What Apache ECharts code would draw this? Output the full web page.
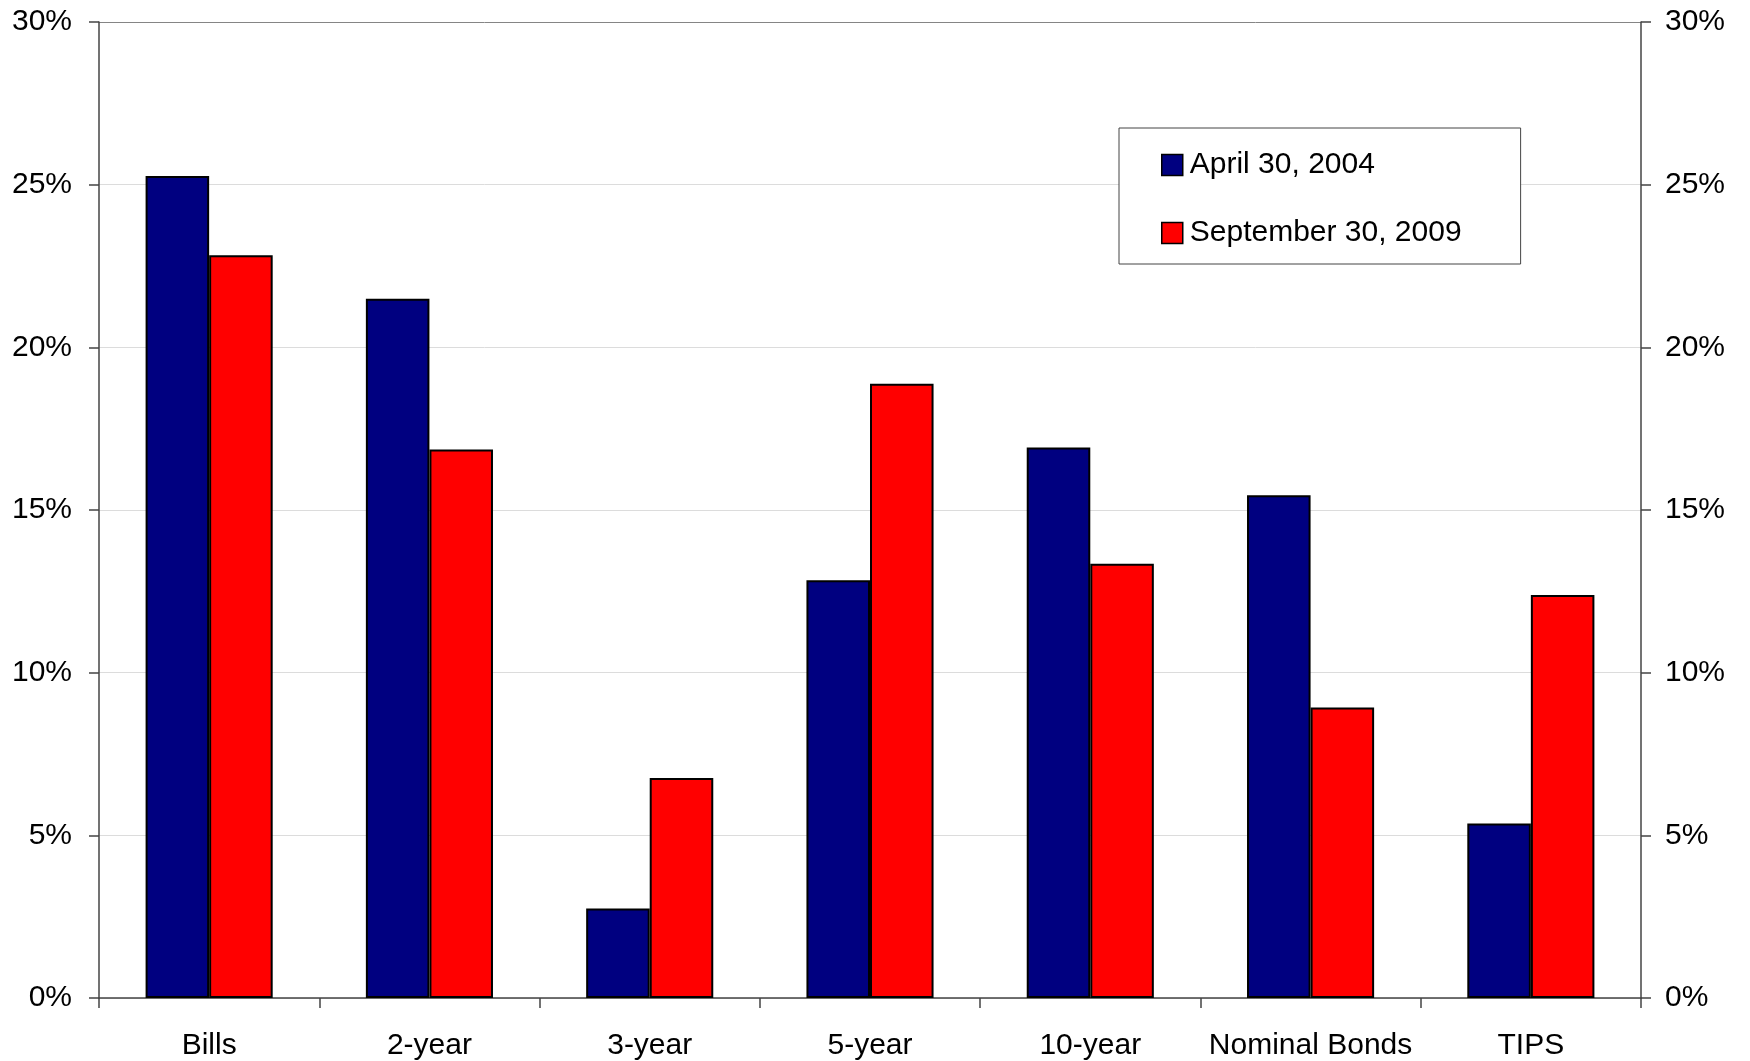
<!DOCTYPE html>
<html>
<head>
<meta charset="utf-8">
<script src="https://cdn.jsdelivr.net/npm/echarts@6/dist/echarts.min.js"></script>
<style>
  html, body { margin: 0; padding: 0; background: #fff; }
  #chart { width: 1750px; height: 1061px; }
</style>
</head>
<body>
<div id="chart"></div>
<script>
// Treasury maturity shares, in percent
const categories = ['Bills', '2-year', '3-year', '5-year', '10-year', 'Nominal Bonds', 'TIPS'];
const april2004 = [25.27, 21.49, 2.75, 12.84, 16.92, 15.45, 5.36];
const september2009 = [22.83, 16.86, 6.76, 18.88, 13.35, 8.93, 12.39];
const seriesNames = ['April 30, 2004', 'September 30, 2009'];
const yTicks = { min: 0, max: 30, step: 5 };

const FONT = '"Liberation Sans", Arial, sans-serif';
const FONT_SIZE = 30;
const chart = echarts.init(document.getElementById('chart'));

// one light split line per tick; the top one doubles as the frame edge
const splitColors = [];
for (let v = yTicks.min; v <= yTicks.max; v += yTicks.step) {
  splitColors.push(v === yTicks.max ? '#858585' : '#dcdcdc');
}

const yAxisBase = {
  type: 'value',
  min: yTicks.min,
  max: yTicks.max,
  interval: yTicks.step,
  axisLine: { show: true, lineStyle: { color: '#444', width: 1.5 } },
  axisTick: { show: true, inside: false, length: 10, lineStyle: { color: '#444', width: 1.5 } },
  axisLabel: { formatter: '{value}%', fontSize: FONT_SIZE, fontFamily: FONT, color: '#000' }
};

chart.setOption({
  animation: false,
  backgroundColor: '#fff',
  grid: { left: 99, right: 109, top: 22, bottom: 63, containLabel: false },
  legend: {
    data: seriesNames,
    orient: 'vertical',
    left: 1119,
    top: 128,
    padding: [22, 59, 16, 42],
    itemWidth: 21,
    itemHeight: 21,
    itemGap: 38,
    icon: 'rect',
    borderColor: '#444',
    borderWidth: 1,
    backgroundColor: '#fff',
    itemStyle: { borderColor: '#000', borderWidth: 1.5 },
    textStyle: { fontSize: FONT_SIZE, lineHeight: 30, fontFamily: FONT, color: '#000', padding: [0, 0, 0, 2] }
  },
  xAxis: {
    type: 'category',
    data: categories,
    axisLine: { show: true, onZero: false, lineStyle: { color: '#444', width: 1.5 } },
    axisTick: { show: true, length: 10, lineStyle: { color: '#444', width: 1.5 } },
    axisLabel: { fontSize: FONT_SIZE, fontFamily: FONT, color: '#000', margin: 33, interval: 0 },
    splitLine: { show: false }
  },
  yAxis: [
    Object.assign({}, yAxisBase, {
      position: 'left',
      axisLabel: Object.assign({}, yAxisBase.axisLabel, { margin: 27 }),
      splitLine: { show: true, lineStyle: { color: splitColors, width: 1 } }
    }),
    Object.assign({}, yAxisBase, {
      position: 'right',
      axisLabel: Object.assign({}, yAxisBase.axisLabel, { margin: 24 }),
      splitLine: { show: false }
    })
  ],
  series: [
    {
      name: seriesNames[0],
      type: 'bar',
      data: april2004,
      barGap: '0%',
      barCategoryGap: '42.3%',
      itemStyle: { color: '#000080', borderColor: '#000', borderWidth: 2 }
    },
    {
      name: seriesNames[1],
      type: 'bar',
      data: september2009,
      barGap: '0%',
      barCategoryGap: '42.3%',
      itemStyle: { color: '#ff0000', borderColor: '#000', borderWidth: 2 }
    }
  ]
});
</script>
</body>
</html>
